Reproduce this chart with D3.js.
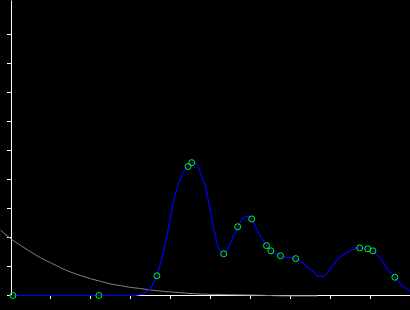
<!DOCTYPE html>
<html lang="en">
    <head>
        <meta charset="utf-8">
        <title>Fit</title>
        <script src="https://cdn.jsdelivr.net/npm/d3@7/dist/d3.min.js" charset="utf-8"></script>
        <style type="text/css">
            html, body {
                margin: 0;
                padding: 0;
                background: #000;
            }
            #chart {
                width: 410px;
                height: 310px;
            }
            .axis path, .axis line {
                stroke: #fff;
            }
        </style>
    </head>
    <body>
        <div id="chart"></div>
        <script>
            // Datos medidos (puntos verdes)
            var pointX = [0.06, 2.21, 3.66, 4.44, 4.53, 5.33, 5.68, 6.03, 6.4, 6.51, 6.75, 7.13, 8.73, 8.93, 9.06, 9.61];
            var pointY = [0, 0, 0.68, 4.45, 4.58, 1.44, 2.37, 2.64, 1.72, 1.54, 1.37, 1.27, 1.64, 1.61, 1.54, 0.63];

            // Curva ajustada (azul)
            var fitX = [0, 3.12, 3.38, 3.54, 3.66, 3.75, 3.83, 3.92, 4.0, 4.08, 4.17, 4.25, 4.38, 4.44, 4.53, 4.63,
                        4.79, 4.88, 4.96, 5.04, 5.13, 5.21, 5.33, 5.46, 5.58, 5.69, 5.79, 5.88, 6.0, 6.03, 6.17,
                        6.29, 6.4, 6.51, 6.75, 6.92, 7.13, 7.33, 7.54, 7.71, 7.82, 7.96, 8.08, 8.25, 8.42, 8.58,
                        8.73, 8.93, 9.06, 9.25, 9.42, 9.61, 9.79, 10.0, 10.13];
            var fitY = [0, 0, 0.11, 0.34, 0.68, 1.09, 1.55, 2.13, 2.70, 3.28, 3.73, 4.02, 4.37, 4.45, 4.58, 4.54,
                        4.08, 3.73, 3.16, 2.59, 2.01, 1.61, 1.44, 1.67, 2.07, 2.37, 2.64, 2.73, 2.73, 2.64, 2.24,
                        1.96, 1.72, 1.54, 1.37, 1.32, 1.27, 1.09, 0.86, 0.66, 0.66, 0.86, 1.09, 1.34, 1.48, 1.59,
                        1.64, 1.61, 1.54, 1.27, 0.92, 0.63, 0.34, 0.15, 0.08];

            // Fondo (gris)
            var bgX = [-0.25, 0.025, 0.25, 0.5, 0.75, 1.0, 1.25, 1.5, 1.75, 2.0, 2.25, 2.5, 2.75, 3.0, 3.25, 3.5,
                       4.125, 4.75, 5.4, 6.25, 6.85, 7.675];
            var bgY = [2.25, 1.94, 1.73, 1.51, 1.30, 1.13, 0.96, 0.81, 0.69, 0.58, 0.49, 0.40, 0.34, 0.28, 0.24, 0.19,
                       0.11, 0.05, 0.03, 0.01, -0.015, -0.015];

            var xTicks = d3.range(1, 10);
            var yTicks = d3.range(0, 10);

            var width = 410, height = 310;
            var svg = d3.select("#chart").append("svg")
                .attr("width", width)
                .attr("height", height);

            var x = d3.scaleLinear().domain([0, 10]).range([10, 410]);
            var y = d3.scaleLinear().domain([0, 295 / 29]).range([295, 0]);

            // Ejes
            svg.append("g")
                .attr("class", "axis")
                .attr("transform", "translate(0," + y(0) + ")")
                .call(d3.axisBottom(x).tickValues(xTicks).tickSize(4).tickSizeOuter(0).tickFormat(""));

            svg.append("g")
                .attr("class", "axis")
                .attr("transform", "translate(11,0)")
                .call(d3.axisLeft(y).tickValues(yTicks).tickSize(4).tickSizeOuter(0).tickFormat(""));

            var plot = svg.append("g").attr("transform", "translate(0.5,0.5)");

            var line = d3.line()
                .x(function(d) { return x(d[0]); })
                .y(function(d) { return y(d[1]); })
                .curve(d3.curveMonotoneX);

            plot.append("path")
                .datum(d3.zip(bgX, bgY))
                .attr("fill", "none")
                .attr("stroke", "#808080")
                .attr("stroke-width", 1)
                .attr("d", line);

            plot.append("path")
                .datum(d3.zip(fitX, fitY))
                .attr("fill", "none")
                .attr("stroke", "#0000ff")
                .attr("stroke-width", 1.2)
                .attr("d", line);

            plot.selectAll("circle")
                .data(d3.zip(pointX, pointY))
                .enter().append("circle")
                .attr("cx", function(d) { return x(d[0]); })
                .attr("cy", function(d) { return y(d[1]); })
                .attr("r", 3)
                .attr("fill", "none")
                .attr("stroke", "#00ff00")
                .attr("stroke-width", 1);
        </script>
    </body>
</html>
